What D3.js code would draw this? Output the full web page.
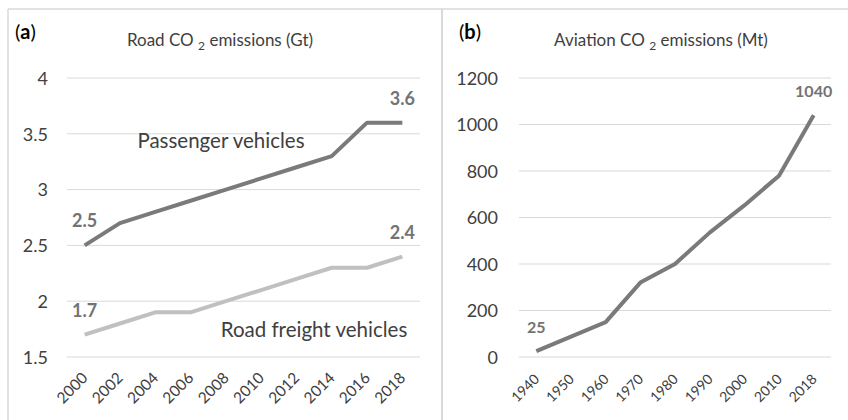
<!DOCTYPE html>
<html>
<head>
<meta charset="utf-8">
<script src="https://cdn.jsdelivr.net/npm/d3@7"></script>
<style>
  html, body { margin: 0; padding: 0; background: #fff; }
  svg { display: block; font-family: Lato, "Open Sans", sans-serif; }
</style>
</head>
<body>
<svg id="chart" width="848" height="420"></svg>
<script>
// Road transport emissions, Gt CO2
const roadYears = ["2000", "2002", "2004", "2006", "2008", "2010", "2012", "2014", "2016", "2018"];
const passenger = [2.5, 2.7, 2.8, 2.9, 3.0, 3.1, 3.2, 3.3, 3.6, 3.6];
const freight = [1.7, 1.8, 1.9, 1.9, 2.0, 2.1, 2.2, 2.3, 2.3, 2.4];
const roadTicks = [1.5, 2, 2.5, 3, 3.5, 4];

// Aviation emissions, Mt CO2
const airYears = ["1940", "1950", "1960", "1970", "1980", "1990", "2000", "2010", "2018"];
const aviation = [25, 88, 150, 320, 400, 535, 652, 780, 1040];
const airTicks = [0, 200, 400, 600, 800, 1000, 1200];

const svg = d3.select("#chart");
const gridColor = "#d9d9d9";
const textColor = "#404040";
const darkLine = "#7a7a7a";
const lightLine = "#c0c0c0";
const valueColor = "#737373";

// outer frame and divider between the two panels
svg.append("line").attr("x1", 8).attr("x2", 848).attr("y1", 9).attr("y2", 9)
  .attr("stroke", gridColor).attr("stroke-width", 1.5);
svg.append("line").attr("x1", 8).attr("x2", 8).attr("y1", 9).attr("y2", 420)
  .attr("stroke", gridColor).attr("stroke-width", 1.5);
svg.append("line").attr("x1", 442).attr("x2", 442).attr("y1", 9).attr("y2", 420)
  .attr("stroke", gridColor).attr("stroke-width", 2);

function panel(opts) {
  const g = svg.append("g");
  const x = d3.scaleBand().domain(opts.years).range(opts.xRange);
  const y = d3.scaleLinear().domain(opts.yDomain).range([357, 78]);
  const bw = x.bandwidth();

  // horizontal gridlines
  g.append("g").selectAll("line").data(opts.ticks).join("line")
    .attr("x1", opts.xRange[0]).attr("x2", opts.xRange[1])
    .attr("y1", d => y(d)).attr("y2", d => y(d))
    .attr("stroke", gridColor).attr("stroke-width", 1);

  // value axis
  const ya = g.append("g").attr("transform", `translate(${opts.yLabelX + 3},0)`)
    .call(d3.axisLeft(y).tickValues(opts.ticks).tickSize(0).tickPadding(3)
      .tickFormat(d3.format("~g")));
  ya.select(".domain").remove();
  ya.selectAll("text").attr("font-size", 18).attr("fill", textColor)
    .attr("font-family", "Lato, 'Open Sans', sans-serif").attr("dy", "0.35em");

  // category axis, labels tilted
  const xa = g.append("g").attr("transform", "translate(0,362)")
    .call(d3.axisBottom(x).tickSize(0).tickPadding(0));
  xa.select(".domain").remove();
  xa.selectAll("text")
    .attr("x", 0).attr("y", 0).attr("dy", 0)
    .attr("transform", opts.xLabelShift + " rotate(-45)")
    .style("text-anchor", "end")
    .attr("font-size", opts.xFont).attr("fill", textColor)
    .attr("font-family", "Lato, 'Open Sans', sans-serif");

  // series lines
  const line = d3.line().x((d, i) => x(opts.years[i]) + bw / 2).y(d => y(d));
  opts.series.forEach(s => {
    g.append("path").datum(s.values)
      .attr("d", line)
      .attr("fill", "none")
      .attr("stroke", s.color)
      .attr("stroke-width", 4)
      .attr("stroke-linejoin", "round");

    // value labels on first and last points
    [0, s.values.length - 1].forEach(i => {
      g.append("text")
        .attr("x", x(opts.years[i]) + bw / 2)
        .attr("y", y(s.values[i]) - 18)
        .attr("text-anchor", "middle")
        .attr("font-size", opts.valueFont)
        .attr("font-weight", "bold")
        .attr("fill", valueColor)
        .text(s.fmt(s.values[i]));
    });
  });

  // panel letter
  const tag = g.append("text").attr("x", opts.tagX).attr("y", 39)
    .attr("font-size", 20).attr("fill", "#000");
  tag.append("tspan").text("(");
  tag.append("tspan").attr("font-weight", "bold").text(opts.tag);
  tag.append("tspan").text(")");

  // title with subscript
  const t = g.append("text").attr("x", opts.titleX).attr("y", 46)
    .attr("text-anchor", "middle").attr("font-size", 17).attr("fill", textColor);
  t.append("tspan").text(opts.titleA + " ");
  t.append("tspan").attr("font-size", 12).attr("dy", 4).text("2");
  t.append("tspan").attr("dy", -4).text(" " + opts.titleB);

  return { g, x, y };
}

const fmt1 = d3.format(".1f");
const pa = panel({
  years: roadYears, xRange: [67, 420], yDomain: [1.5, 4], ticks: roadTicks,
  yLabelX: 48, xFont: 15.5, xLabelShift: "translate(4,17)", valueFont: 18,
  tag: "a", tagX: 15, titleX: 220,
  titleA: "Road CO", titleB: "emissions (Gt)",
  series: [
    { values: passenger, color: darkLine, fmt: fmt1 },
    { values: freight, color: lightLine, fmt: fmt1 }
  ]
});

// series names in panel (a)
pa.g.append("text").attr("x", 221).attr("y", 148).attr("text-anchor", "middle")
  .attr("font-size", 20.5).attr("fill", textColor).text("Passenger vehicles");
pa.g.append("text").attr("x", 314).attr("y", 337).attr("text-anchor", "middle")
  .attr("font-size", 20.5).attr("fill", textColor).text("Road freight vehicles");

panel({
  years: airYears, xRange: [519, 831], yDomain: [0, 1200], ticks: airTicks,
  yLabelX: 498, xFont: 14, xLabelShift: "translate(4,18)", valueFont: 16,
  tag: "b", tagX: 459, titleX: 661,
  titleA: "Aviation CO", titleB: "emissions (Mt)",
  series: [
    { values: aviation, color: darkLine, fmt: d3.format("d") }
  ]
});
</script>
</body>
</html>
